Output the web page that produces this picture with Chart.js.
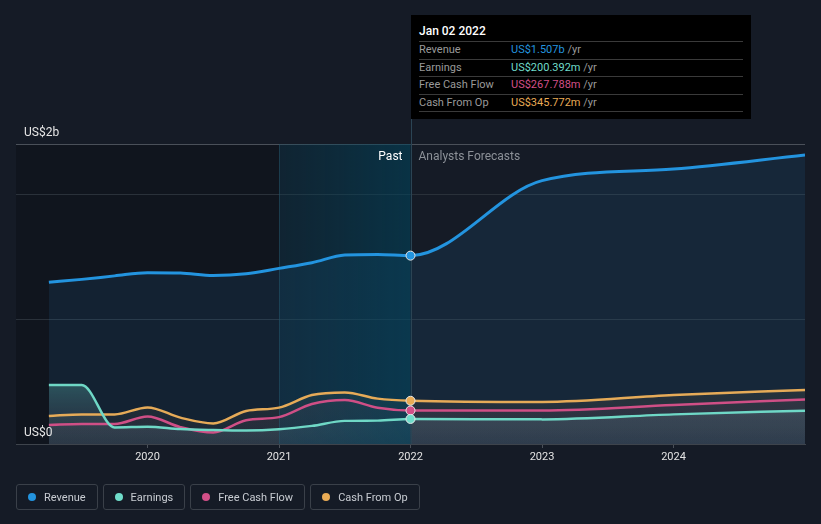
<!DOCTYPE html>
<html>
<head>
<meta charset="utf-8">
<script src="https://cdn.jsdelivr.net/npm/chart.js@4"></script>
<style>
  html, body { margin:0; padding:0; background:#151b26; width:821px; height:524px; overflow:hidden; font-family: Roboto, "Noto Sans", sans-serif; }
  #wrap { position:relative; width:821px; height:524px; }
  canvas { position:absolute; left:0; top:0; }
  #tip { position:absolute; left:411px; top:15px; width:340px; height:104px; background:#000; color:#fff; font-size:11px; }
  #tip .head { position:absolute; left:8px; top:9px; font-size:12px; font-weight:500; color:#fff; }
  #tip .sep { position:absolute; left:8px; width:324px; height:1px; background:#3a3a3a; }
  #tip .row { position:absolute; left:8px; width:324px; height:17px; line-height:17px; color:#9a9a9a; }
  #tip .row .v { position:absolute; left:92px; }
  #legend { position:absolute; left:16px; top:484px; display:flex; gap:5px; }
  .lg { box-sizing:border-box; height:26px; border:1px solid #3a4049; border-radius:3px; display:flex; align-items:center; padding:0 11px 0 11px; font-size:11px; color:#c8ccd2; }
  .lg .dot { width:8px; height:8px; border-radius:50%; margin-right:8px; }
</style>
</head>
<body>
<div id="wrap">
  <canvas id="c" width="821" height="524"></canvas>
  <div id="tip"></div>
  <div id="legend"></div>
</div>
<script>
// ---- data (values in US$ billions) ----
const years = [2019.25, 2019.5, 2019.75, 2020.0, 2020.25, 2020.5, 2020.75, 2021.0, 2021.25, 2021.5, 2021.75, 2022.0, 2023.0, 2024.0, 2025.0];
const revenue = [1.294, 1.317, 1.345, 1.371, 1.368, 1.348, 1.362, 1.405, 1.450, 1.512, 1.517, 1.507, 2.107, 2.200, 2.312];
const earnings = [0.472, 0.472, 0.133, 0.139, 0.120, 0.112, 0.108, 0.118, 0.145, 0.185, 0.187, 0.200392, 0.197, 0.237, 0.267];
const freeCashFlow = [0.152, 0.160, 0.160, 0.220, 0.135, 0.092, 0.190, 0.215, 0.320, 0.352, 0.290, 0.267788, 0.268, 0.312, 0.357];
const cashFromOp = [0.224, 0.237, 0.237, 0.293, 0.211, 0.165, 0.264, 0.291, 0.392, 0.413, 0.363, 0.345772, 0.336, 0.392, 0.432];
const seriesNames = ['Revenue', 'Earnings', 'Free Cash Flow', 'Cash From Op'];
const xTickYears = [2020, 2021, 2022, 2023, 2024];
const yGridValues = [0, 1, 2, 2.4];
const yLabels = ['US$0', 'US$2b'];
const tooltipDate = 'Jan 02 2022';
const pastStart = 2021.0;
const nowYear = 2022.0;

const colors = ['#2394df', '#6fdcca', '#d24f88', '#e9ab55'];
const lineColors = ['#2394df', '#6fd8c6', '#cf4f86', '#e6ab58'];

const allSeries = [revenue, earnings, freeCashFlow, cashFromOp];

function pts(arr){ return years.map((x,i)=>({x:x, y:arr[i]})); }

function gradFill(stops){
  return function(ctx){
    const chart = ctx.chart; const ca = chart.chartArea;
    if (!ca) return 'rgba(0,0,0,0)';
    const y0 = chart.scales.y.getPixelForValue(stops[0][0]);
    const g = chart.ctx.createLinearGradient(0, y0, 0, ca.bottom);
    const span = ca.bottom - y0;
    stops.forEach(s => {
      const yp = chart.scales.y.getPixelForValue(s[0]);
      g.addColorStop(Math.min(1, Math.max(0, (yp - y0) / span)), s[1]);
    });
    return g;
  };
}

const fills = [
  function(){ return 'rgba(35,148,223,0.10)'; },
  gradFill([[0.5, 'rgba(110,216,196,0.30)'], [0.22, 'rgba(140,175,178,0.17)'], [0, 'rgba(140,160,170,0.12)']]),
  gradFill([[0.4, 'rgba(211,80,138,0.08)'], [0, 'rgba(180,110,140,0.04)']]),
  gradFill([[0.45, 'rgba(205,155,70,0.11)'], [0, 'rgba(190,160,110,0.05)']])
];

const datasets = allSeries.map((arr, i) => ({
  label: seriesNames[i],
  data: pts(arr),
  borderColor: lineColors[i],
  borderWidth: i === 0 ? 3 : 2.5,
  fill: 'origin',
  backgroundColor: fills[i],
  cubicInterpolationMode: 'monotone',
  pointRadius: (c) => (c.raw && c.raw.x === nowYear) ? 4.5 : 0,
  pointBackgroundColor: colors[i],
  pointBorderColor: '#e6e6e6',
  pointBorderWidth: 1
}));

const deco = {
  id: 'deco',
  beforeDraw(chart){
    const {ctx, chartArea: ca, scales:{x}} = chart;
    ctx.save();
    ctx.fillStyle = 'rgba(0,0,0,0.2)';
    const xp = x.getPixelForValue(pastStart);
    ctx.fillRect(ca.left, ca.top, xp - ca.left, ca.bottom - ca.top);
    ctx.restore();
  },
  beforeDatasetsDraw(chart){
    const {ctx, chartArea: ca, scales:{x}} = chart;
    const x1 = x.getPixelForValue(pastStart), x2 = x.getPixelForValue(nowYear);
    ctx.save();
    const g = ctx.createLinearGradient(x1, 0, x2, 0);
    g.addColorStop(0, 'rgba(0,70,95,0.22)');
    g.addColorStop(1, 'rgba(0,70,95,0.55)');
    ctx.fillStyle = g;
    ctx.fillRect(x1, ca.top, x2 - x1, ca.bottom - ca.top);
    ctx.strokeStyle = 'rgba(40,90,110,0.45)';
    ctx.lineWidth = 1;
    ctx.beginPath(); ctx.moveTo(Math.round(x1)+0.5, ca.top); ctx.lineTo(Math.round(x1)+0.5, ca.bottom); ctx.stroke();
    ctx.strokeStyle = '#2b4454';
    ctx.beginPath(); ctx.moveTo(Math.round(x2)+0.5, 15); ctx.lineTo(Math.round(x2)+0.5, ca.bottom); ctx.stroke();
    ctx.restore();
  },
  afterDraw(chart){
    const {ctx, chartArea: ca, scales:{x}} = chart;
    const xn = x.getPixelForValue(nowYear);
    ctx.save();
    ctx.font = '12px Roboto';
    ctx.textBaseline = 'alphabetic';
    ctx.fillStyle = '#ffffff';
    ctx.textAlign = 'right';
    ctx.fillText('Past', xn - 8, ca.top + 16);
    ctx.fillStyle = '#8c9198';
    ctx.textAlign = 'left';
    ctx.fillText('Analysts Forecasts', xn + 8, ca.top + 16);
    ctx.fillStyle = '#e6e6e6';
    ctx.fillText(yLabels[1], 24, ca.top - 8);
    ctx.fillText(yLabels[0], 24, ca.bottom - 8);
    ctx.restore();
  }
};

new Chart(document.getElementById('c'), {
  type: 'line',
  data: { datasets },
  options: {
    responsive: false,
    devicePixelRatio: 1,
    animation: false,
    events: [],
    layout: { padding: { top: 144, left: 16, right: 16, bottom: 0 } },
    plugins: {
      legend: { display: false },
      tooltip: { enabled: false },
      filler: { drawTime: 'beforeDatasetsDraw' }
    },
    scales: {
      x: {
        type: 'linear', min: 2019.0, max: 2025.0,
        afterBuildTicks: (s) => { s.ticks = xTickYears.map(v => ({value: v})); },
        afterFit: (s) => { s.height = 80; },
        ticks: { color: '#e3e3e3', font: { family: 'Roboto', size: 11 }, padding: 3, callback: (v) => String(v), maxRotation: 0 },
        grid: { drawOnChartArea: false, drawTicks: true, tickLength: 4, color: '#4a5059' },
        border: { display: true, color: '#3e444c' }
      },
      y: {
        min: 0, max: 2.4,
        afterBuildTicks: (s) => { s.ticks = yGridValues.map(v => ({value: v})); },
        afterFit: (s) => { s.width = 0; },
        ticks: { display: false },
        grid: { drawTicks: false, color: (c) => c.tick.value === 2.4 ? '#4a5059' : (c.tick.value === 0 ? '#3e444c' : '#2a313a') },
        border: { display: false }
      }
    }
  },
  plugins: [deco]
});

// tooltip (HTML)
const idx = years.indexOf(nowYear);
function fmt(v){ return v >= 1 ? 'US$' + v.toFixed(3) + 'b' : 'US$' + (v*1000).toFixed(3) + 'm'; }
const tip = document.getElementById('tip');
let html = '<div class="head">' + tooltipDate + '</div>';
const seps = [26, 44, 61, 79, 96];
seps.forEach(t => { html += '<div class="sep" style="top:' + t + 'px"></div>'; });
const rowTops = [26, 44, 61, 79];
seriesNames.forEach((n, i) => {
  html += '<div class="row" style="top:' + rowTops[i] + 'px">' + n + '<span class="v"><span style="color:' + colors[i] + '">' + fmt(allSeries[i][idx]) + '</span> /yr</span></div>';
});
tip.innerHTML = html;

// legend (HTML)
const lg = document.getElementById('legend');
seriesNames.forEach((n, i) => {
  const d = document.createElement('div'); d.className = 'lg';
  d.innerHTML = '<span class="dot" style="background:' + colors[i] + '"></span>' + n;
  lg.appendChild(d);
});
</script>
</body>
</html>
